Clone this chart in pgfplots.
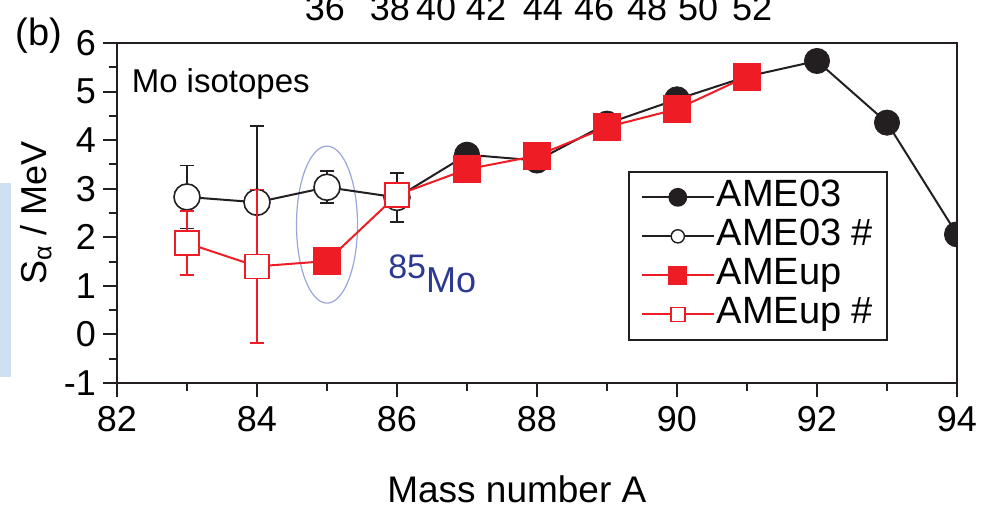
\documentclass[border=0pt]{standalone}
\usepackage{pgfplots}
\pgfplotsset{compat=1.18}
\usepackage{fontspec}
\setmainfont{Liberation Sans}
\definecolor{ored}{HTML}{EE1C25}
\definecolor{oblk}{HTML}{231F20}
\definecolor{oblue}{HTML}{2B3990}
\definecolor{ell}{HTML}{9AA5D8}
\definecolor{lb}{HTML}{CFE0F3}
\begin{document}
\begin{tikzpicture}
\begin{axis}[name=ax, at={(0,0)}, anchor=south west,
 scale only axis, width=420pt, height=170pt,
 xmin=82, xmax=94, ymin=-1, ymax=6,
 xtick={82,84,...,94}, minor xtick={83,85,...,93},
 ytick={-1,0,...,6}, minor ytick={-0.5,0.5,...,5.5},
 tick align=outside, xtick pos=left, ytick pos=left,
 major tick length=7pt, minor tick length=4pt,
 tick style={oblk, line width=1pt},
 axis line style={oblk, line width=1.2pt},
 ticklabel style={font=\fontsize{18}{20}\selectfont},
 xticklabel style={yshift=-1pt},
 /pgf/number format/assume math mode=true,
 clip mode=individual, clip marker paths=true,
 xlabel={Mass number A},
 xlabel style={at={(rel axis cs:0.476,-0.353)}, anchor=base, font=\fontsize{18.5}{20}\selectfont},
 ylabel={S\textsubscript{α} / MeV},
 ylabel style={at={(rel axis cs:-0.0965,0.5)}, anchor=center, font=\fontsize{18}{20}\selectfont},
 legend style={at={(rel axis cs:0.918,0.624)}, anchor=north east, draw=oblk, line width=1pt,
   inner xsep=6pt, inner ysep=3pt, font=\fontsize{19}{21}\selectfont, row sep=0pt,
   nodes={inner sep=1pt, text height=13.5pt, text depth=4pt}},
 legend cell align=left,
 legend image code/.code={\draw[mark repeat=2,mark phase=2] plot coordinates {(0pt,0pt) (18pt,0pt) (36pt,0pt)};},
]
\draw[ell, line width=0.6pt] (axis cs:85,2.26) ellipse [x radius=15.25pt, y radius=39.25pt];
\addplot[oblk, line width=1pt, forget plot] coordinates {(83,2.83)(84,2.72)(85,3.03)(86,2.82)(87,3.70)(88,3.58)(89,4.34)(90,4.84)(91,5.31)(92,5.63)(93,4.36)(94,2.06)};
\addplot[ored, line width=1pt, forget plot] coordinates {(83,1.88)(84,1.40)(85,1.51)(86,2.87)(87,3.40)(88,3.68)(89,4.27)(90,4.64)(91,5.31)};
\addplot[only marks, mark=*, mark size=6.3pt, oblk, forget plot] coordinates {(87,3.70)(88,3.58)(89,4.34)(90,4.84)(91,5.31)(92,5.63)(93,4.36)(94,2.06)};
\addplot[only marks, mark=*, mark size=6.5pt, mark options={fill=white, draw=oblk, line width=0.8pt}, oblk, forget plot,
  error bars/.cd, y dir=both, y explicit, error bar style={line width=0.8pt, oblk},
  error mark options={rotate=90, mark size=3.5pt, line width=0.8pt, oblk}]
  coordinates {(83,2.83) +- (0,0.65) (84,2.72) +- (0,1.57) (85,3.03) +- (0,0.33) (86,2.82) +- (0,0.50)};
\addplot[only marks, mark=square*, mark size=6.7pt, ored, forget plot] coordinates {(85,1.51)(87,3.40)(88,3.68)(89,4.27)(90,4.64)(91,5.31)};
\addplot[only marks, mark=square*, mark size=6pt, mark options={fill=white, draw=ored, line width=0.8pt}, ored, forget plot,
  error bars/.cd, y dir=both, y explicit, error bar style={line width=0.8pt, ored},
  error mark options={rotate=90, mark size=3.5pt, line width=0.8pt, ored}]
  coordinates {(83,1.88) +- (0,0.66) (84,1.40) +- (0,1.58) (86,2.87) +- (0,0)};
\addlegendimage{oblk, line width=1pt, mark=*, mark size=4.2pt}
\addlegendentry{AME03}
\addlegendimage{oblk, line width=1pt, mark=*, mark size=3.3pt, mark options={fill=white, line width=0.7pt}}
\addlegendentry{AME03 \#}
\addlegendimage{ored, line width=1pt, mark=square*, mark size=4.2pt}
\addlegendentry{AMEup}
\addlegendimage{ored, line width=1pt, mark=square*, mark size=3.5pt, mark options={fill=white, line width=0.8pt}}
\addlegendentry{AMEup \#}
\node[anchor=base west, font=\fontsize{16.5}{18}\selectfont] at (axis cs:82.11,4.99) {Mo isotopes};
\node[anchor=base west, oblue, font=\fontsize{18}{20}\selectfont, inner sep=0pt] at (axis cs:85.87,0.87) {\raisebox{7pt}{\fontsize{17}{19}\selectfont 85}Mo};
\node[anchor=base west, font=\fontsize{19}{21}\selectfont, inner sep=0pt] at (rel axis cs:-0.1214,0.994) {(b)};
\node[anchor=base, font=\fontsize{18}{20}\selectfont, inner sep=0pt] at (rel axis cs:0.2476,1.0647) {36};
\node[anchor=base, font=\fontsize{18}{20}\selectfont, inner sep=0pt] at (rel axis cs:0.3250,1.0647) {38};
\node[anchor=base, font=\fontsize{18}{20}\selectfont, inner sep=0pt] at (rel axis cs:0.3798,1.0647) {40};
\node[anchor=base, font=\fontsize{18}{20}\selectfont, inner sep=0pt] at (rel axis cs:0.4393,1.0647) {42};
\node[anchor=base, font=\fontsize{18}{20}\selectfont, inner sep=0pt] at (rel axis cs:0.5071,1.0647) {44};
\node[anchor=base, font=\fontsize{18}{20}\selectfont, inner sep=0pt] at (rel axis cs:0.5679,1.0647) {46};
\node[anchor=base, font=\fontsize{18}{20}\selectfont, inner sep=0pt] at (rel axis cs:0.6310,1.0647) {48};
\node[anchor=base, font=\fontsize{18}{20}\selectfont, inner sep=0pt] at (rel axis cs:0.6917,1.0647) {50};
\node[anchor=base, font=\fontsize{18}{20}\selectfont, inner sep=0pt] at (rel axis cs:0.7560,1.0647) {52};
\fill[lb] (rel axis cs:-0.1393,0.0176) rectangle (rel axis cs:-0.1262,0.588);
\end{axis}
\pgfresetboundingbox
\path[use as bounding box] ([shift={(-58.5pt,-62.5pt)}]ax.south west) rectangle ([shift={(15pt,21.5pt)}]ax.north east);
\end{tikzpicture}
\end{document}
